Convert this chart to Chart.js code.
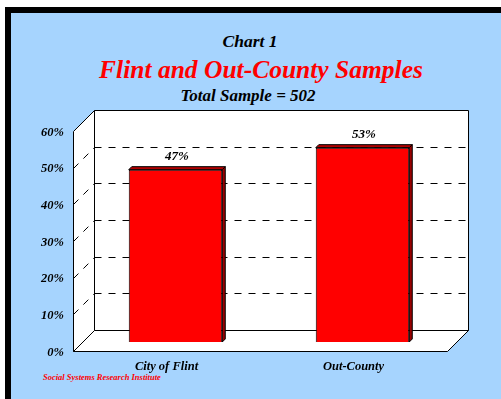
<!DOCTYPE html>
<html>
<head>
<meta charset="utf-8">
<script src="https://cdn.jsdelivr.net/npm/chart.js@4.4.1/dist/chart.umd.min.js"></script>
<style>
  html, body { margin: 0; padding: 0; background: #fff; overflow: hidden; }
  body { width: 501px; height: 399px; position: relative; }
  #frame {
    position: absolute; left: 5px; top: 7px; width: 520px; height: 400px;
    border: 6px solid #000; background: #a6d4fe; box-sizing: border-box;
  }
  .txt {
    position: absolute; white-space: nowrap; text-align: center;
    font-family: 'Liberation Serif', 'Times New Roman', serif;
    font-weight: bold; font-style: italic;
  }
  #chart { position: absolute; left: 0; top: 0; }
</style>
</head>
<body>
<div id="frame"></div>
<div class="txt" style="left:150px;width:200px;top:33px;font-size:17.5px;line-height:17px;color:#000">Chart 1</div>
<div class="txt" style="left:61px;width:400px;top:57px;font-size:25.5px;line-height:26px;color:#ff0000">Flint and Out-County Samples</div>
<div class="txt" style="left:148px;width:200px;top:87px;font-size:17px;line-height:17px;color:#000">Total Sample = 502</div>
<div class="txt" style="left:43px;top:373px;font-size:8.5px;line-height:9px;color:#ff0000;text-align:left">Social Systems Research Institute</div>
<canvas id="chart" width="501" height="399"></canvas>
<script>
const categories = ['City of Flint', 'Out-County'];
const shares = [47, 53];
const tickValues = [0, 10, 20, 30, 40, 50, 60];

const DEPTH = 21;      // depth of the box (back wall offset)
const BAR_SHIFT = 9;   // bars sit a little behind the front plane
const BAR_DEPTH = 3;   // thickness of the bar side/top faces
const serif = "'Liberation Serif', 'Times New Roman', serif";

function poly(ctx, pts) {
    ctx.beginPath();
    ctx.moveTo(pts[0][0], pts[0][1]);
    for (let i = 1; i < pts.length; i++) ctx.lineTo(pts[i][0], pts[i][1]);
    ctx.closePath();
    ctx.fill();
    ctx.stroke();
}

// draws the 3D walls, floor and the bar faces
const box3d = {
    id: 'box3d',
    beforeDatasetsDraw(chart) {
        const ctx = chart.ctx;
        const a = chart.chartArea;
        const y = chart.scales.y;
        const d = DEPTH;
        const L = Math.round(a.left) + 0.5, R = Math.round(a.right) + 0.5;
        const T = Math.round(a.top) + 0.5, B = Math.round(a.bottom) + 0.5;

        ctx.save();
        ctx.fillStyle = '#fff';
        ctx.strokeStyle = '#000';
        ctx.lineWidth = 1;
        poly(ctx, [[L + d, T - d], [R + d, T - d], [R + d, B - d], [L + d, B - d]]);
        poly(ctx, [[L, T], [L + d, T - d], [L + d, B - d], [L, B]]);
        poly(ctx, [[L, B], [L + d, B - d], [R + d, B - d], [R, B]]);

        ctx.setLineDash([7, 7]);
        tickValues.slice(1, -1).forEach(v => {
            const py = Math.round(y.getPixelForValue(v)) + 0.5;
            ctx.beginPath();
            ctx.moveTo(L + d, py - d);
            ctx.lineTo(R + d, py - d);
            ctx.stroke();
            ctx.beginPath();
            ctx.moveTo(L, py);
            ctx.lineTo(L + d, py - d);
            ctx.stroke();
        });
        ctx.restore();
    },
    beforeDatasetDraw(chart) {
        chart.ctx.save();
        chart.ctx.translate(BAR_SHIFT, -BAR_SHIFT);
    },
    afterDatasetDraw(chart, args) {
        const ctx = chart.ctx;
        const k = BAR_DEPTH;
        ctx.strokeStyle = '#000';
        ctx.lineWidth = 1;
        args.meta.data.forEach((bar, i) => {
            const p = bar.getProps(['x', 'y', 'base', 'width'], true);
            const l = p.x - p.width / 2, r = p.x + p.width / 2;
            ctx.fillStyle = '#990000';
            poly(ctx, [[r, p.y], [r + k, p.y - k], [r + k, p.base - k], [r, p.base]]);
            ctx.fillStyle = '#b00000';
            poly(ctx, [[l, p.y], [l + k, p.y - k], [r + k, p.y - k], [r, p.y]]);

            ctx.fillStyle = '#000';
            ctx.font = 'italic bold 13px ' + serif;
            ctx.textAlign = 'center';
            ctx.textBaseline = 'middle';
            ctx.fillText(shares[i] + '%', p.x + k / 2, p.y - k - 10);
        });
        ctx.restore();
    }
};

new Chart(document.getElementById('chart'), {
    type: 'bar',
    data: {
        labels: categories,
        datasets: [{
            data: shares,
            backgroundColor: '#ff0000',
            borderColor: '#000',
            borderWidth: 1,
            barPercentage: 0.5,
            categoryPercentage: 1,
            clip: false
        }]
    },
    options: {
        responsive: false,
        animation: false,
        layout: { padding: { left: 0, right: 54, top: 131, bottom: 0 } },
        plugins: { legend: { display: false }, tooltip: { enabled: false } },
        scales: {
            x: {
                grid: { display: false, drawTicks: false },
                border: { display: false },
                ticks: { color: '#000', padding: 8, font: { family: serif, size: 12.5, style: 'italic', weight: 'bold' } },
                afterFit(s) { s.height = 48; }
            },
            y: {
                min: tickValues[0],
                max: tickValues[tickValues.length - 1],
                grid: { display: false, drawTicks: false },
                border: { display: false },
                ticks: {
                    stepSize: 10,
                    color: '#000',
                    padding: 9,
                    labelOffset: 1.5,
                    font: { family: serif, size: 12.5, style: 'italic', weight: 'bold' },
                    callback: v => v + '%'
                },
                afterFit(s) { s.width = 73; }
            }
        }
    },
    plugins: [box3d]
});
</script>
</body>
</html>
